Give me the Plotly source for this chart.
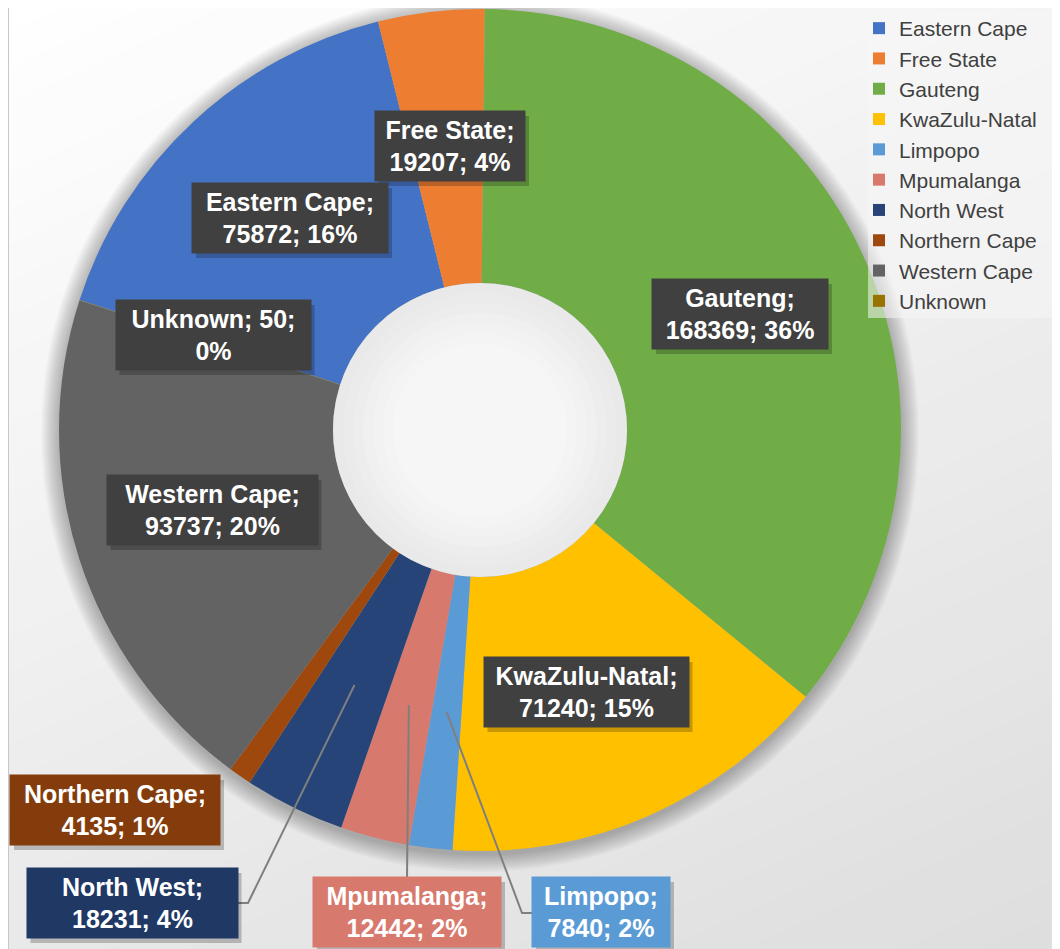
import math
import plotly.graph_objects as go

# ---------------- data ----------------
provinces = ["Eastern Cape", "Free State", "Gauteng", "KwaZulu-Natal", "Limpopo",
             "Mpumalanga", "North West", "Northern Cape", "Western Cape", "Unknown"]
cases = [75872, 19207, 168369, 71240, 7840, 12442, 18231, 4135, 93737, 50]
percent_labels = [16, 4, 36, 15, 2, 2, 4, 1, 20, 0]

# ---------------- style ----------------
W, H = 1060, 949
OFF = 8  # page body margin
slice_colors = ["#4472C4", "#ED7D31", "#70AD47", "#FFC000", "#5B9BD5",
                "#D8796D", "#264478", "#9E480E", "#636363", "#997300"]
label_bg = ["#404040", "#404040", "#404040", "#404040", "#5B9BD5",
            "#D8796D", "#203864", "#843C0C", "#404040", "#404040"]
# label box centres / sizes in page pixels (layout)
label_pos = [(290, 218), (450, 146), (740, 314), (586, 692), (601, 912),
             (407, 912), (132, 903), (115, 810), (212, 510), (213, 335)]
label_w = [196, 150, 176, 205, 138, 188, 211, 210, 211, 195]
label_h = 70
leader = {4: (532, 913, 522), 5: (407, 877, None), 6: (238, 903, 248)}

CX, CY, R = 480, 430, 421
HOLE_R = 147
ROTATION = 288


def px(x):
    return (x - OFF) / W


def py(y):
    return 1 - (y - OFF) / H


fig = go.Figure()
fig.add_trace(go.Pie(
    labels=provinces, values=cases, sort=False, direction="clockwise",
    rotation=ROTATION, hole=HOLE_R / R, textinfo="none", hoverinfo="label+value+percent",
    marker=dict(colors=slice_colors, line=dict(width=0)),
    domain=dict(x=[px(CX - R), px(CX + R)], y=[py(CY + R), min(1.0, py(CY - R))]),
))

shapes = []
# background diagonal gradient
N = 40
a, b = 0.45, 1.0
tmax = a * W + b * H
for k in range(N + 1):
    t = k / N
    c = t * tmax
    g = int(round(255 - 34 * t))
    pts = [(-2000, (c + 2000 * a) / b), (4000, (c - 4000 * a) / b), (4000, 5000), (-2000, 5000)]
    path = "M " + " L ".join(f"{px(x):.5f},{py(y):.5f}" for x, y in pts) + " Z"
    shapes.append(dict(type="path", path=path, xref="paper", yref="paper",
                       fillcolor=f"rgb({g},{g},{g})", line=dict(width=0), layer="below"))
# soft pie shadow
for i in range(12, 0, -1):
    rr = R + i * 1.5
    shapes.append(dict(type="circle", xref="paper", yref="paper",
                       x0=px(CX - rr), x1=px(CX + rr), y0=py(CY + 3 + rr), y1=py(CY + 3 - rr),
                       fillcolor="rgba(0,0,0,0.022)", line=dict(width=0), layer="below"))
# legend panel
shapes.append(dict(type="rect", xref="paper", yref="paper",
                   x0=px(868), x1=px(1080), y0=py(318), y1=py(11),
                   fillcolor="rgba(246,246,246,0.55)", line=dict(width=0), layer="above"))
# hole shading
for i in range(14):
    rr = HOLE_R - i * 10
    if rr <= 0:
        break
    g = int(round(233 + min(i, 6) * 2.2))
    shapes.append(dict(type="circle", xref="paper", yref="paper",
                       x0=px(CX - rr), x1=px(CX + rr), y0=py(CY + rr), y1=py(CY - rr),
                       fillcolor=f"rgb({g},{g},{g})", line=dict(width=0), layer="above"))
# left border line
shapes.append(dict(type="line", xref="paper", yref="paper", x0=px(8), x1=px(8), y0=-0.1, y1=1.1,
                   line=dict(color="#c8c8c8", width=2), layer="above"))

# leader lines, anchored in the middle of each slice
total = sum(cases)
cum = 0
mid_angles = []
for v in cases:
    mid_angles.append(ROTATION + 360 * (cum + v / 2) / total)
    cum += v
for idx, (ex, ey, bx) in leader.items():
    ang = math.radians(mid_angles[idx])
    ra = 0.675 * R
    ax = CX + ra * math.sin(ang)
    ay = CY - ra * math.cos(ang)
    pts = [(ax, ay)]
    if bx is not None:
        pts.append((bx, ey))
    pts.append((ex, ey))
    path = "M " + " L ".join(f"{px(x):.5f},{py(y):.5f}" for x, y in pts)
    shapes.append(dict(type="path", path=path, xref="paper", yref="paper",
                       line=dict(color="#7f7f7f", width=2), layer="above"))

annotations = []
for i, name in enumerate(provinces):
    head = f"{name}; {cases[i]};"
    if len(head) <= 12:
        text = f"{head}<br>{percent_labels[i]}%"
    else:
        text = f"{name};<br>{cases[i]}; {percent_labels[i]}%"
    x, y = label_pos[i]
    # drop shadow of the label box
    shapes.append(dict(type="rect", xref="paper", yref="paper",
                       x0=px(x - label_w[i] / 2 + 4), x1=px(x + label_w[i] / 2 + 4),
                       y0=py(y + label_h / 2 + 5), y1=py(y - label_h / 2 + 5),
                       fillcolor="rgba(0,0,0,0.22)", line=dict(width=0), layer="above"))
    annotations.append(dict(x=px(x), y=py(y), xref="paper", yref="paper",
                            xanchor="center", yanchor="middle",
                            text=f"<b>{text}</b>", showarrow=False, width=label_w[i], height=label_h,
                            bgcolor=label_bg[i], borderpad=0, align="center", valign="middle",
                            font=dict(family="Liberation Sans", size=25, color="white")))

fig.update_layout(
    width=W, height=H, margin=dict(l=0, r=0, t=0, b=0, autoexpand=False),
    paper_bgcolor="white", plot_bgcolor="white",
    shapes=shapes, annotations=annotations,
    showlegend=True,
    legend=dict(x=px(859), y=1.0, xanchor="left", yanchor="top",
                bgcolor="rgba(0,0,0,0)", borderwidth=0,
                font=dict(family="Liberation Sans", size=21, color="#404040"),
                traceorder="normal"),
)

fig.write_html("out.html")
